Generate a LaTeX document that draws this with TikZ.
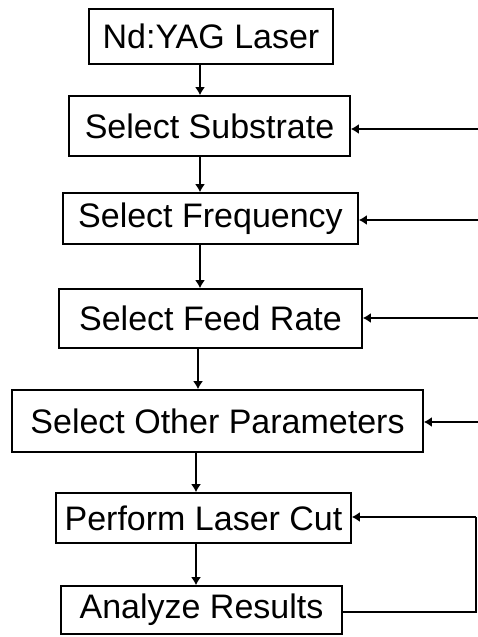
\documentclass[tikz,border=0pt]{standalone}
\usepackage{fontspec}
\setmainfont{Liberation Sans}
\usetikzlibrary{arrows.meta}
\begin{document}
\begin{tikzpicture}[x=1pt,y=-1pt,
  box/.style={draw,line width=1.6pt,inner sep=0pt,
    font=\fontsize{34}{38}\selectfont},
  flow/.style={line width=1.6pt,-{Latex[length=8pt,width=10pt]}},
  link/.style={line width=1.6pt}]
\useasboundingbox[fill=white] (0,0) rectangle (477,637);

% process steps
\node[box,minimum width=244pt,minimum height=55pt] (laser) at (211,36.5) {Nd:YAG Laser};
\node[box,minimum width=281pt,minimum height=60pt] (subs)  at (209.5,126) {Select Substrate};
\node[box,minimum width=295pt,minimum height=51pt] (freq)  at (210.5,218.5) {Select Frequency};
\node[box,minimum width=303pt,minimum height=59pt] (feed)  at (210.5,318.5) {Select Feed Rate};
\node[box,minimum width=411pt,minimum height=62pt] (other) at (217.5,421) {Select Other Parameters};
\node[box,minimum width=295pt,minimum height=50pt] (cut)   at (203.5,518) {Perform Laser Cut};
\node[box,minimum width=281pt,minimum height=48pt] (anal)  at (201.5,610) {Analyze Results};

% vertical guides for the downward arrows
\coordinate (ga) at (200,0);
\coordinate (gb) at (198,0);
\coordinate (gc) at (196,0);

\draw[flow] (laser.south -| ga) -- (subs.north -| ga);
\draw[flow] (subs.south -| ga) -- (freq.north -| ga);
\draw[flow] (freq.south -| ga) -- (feed.north -| ga);
\draw[flow] (feed.south -| gb) -- (other.north -| gb);
\draw[flow] (other.south -| gc) -- (cut.north -| gc);
\draw[flow] (cut.south -| gc) -- (anal.north -| gc);

% feedback returns entering from the right
\coordinate (r1) at (478,129);
\coordinate (r2) at (478,220);
\coordinate (r3) at (478,318);
\coordinate (r4) at (478,422);
\coordinate (rb) at (476,612);
\coordinate (rt) at (476,517);

\draw[flow] (r1) -- (r1 -| subs.east);
\draw[flow] (r2) -- (r2 -| freq.east);
\draw[flow] (r3) -- (r3 -| feed.east);
\draw[flow] (r4) -- (r4 -| other.east);
\draw[link] (rb -| anal.east) -- (rb) -- (rt);
\draw[flow] (rt) -- (rt -| cut.east);
\end{tikzpicture}
\end{document}
